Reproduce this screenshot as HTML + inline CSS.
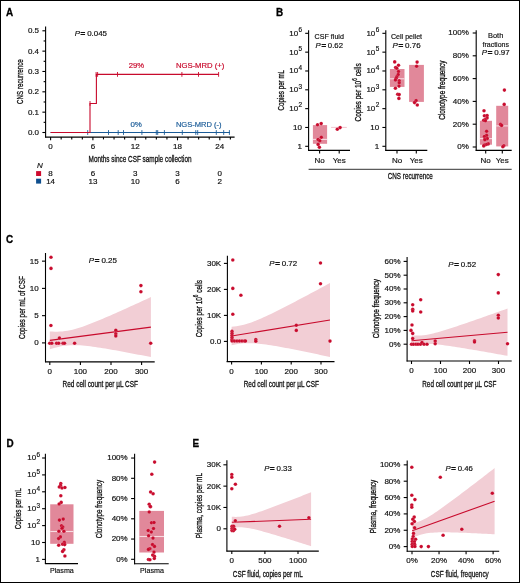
<!DOCTYPE html>
<html><head><meta charset="utf-8"><style>
html,body{margin:0;padding:0;background:#fff;}
#f{position:relative;width:520px;height:583px;box-sizing:border-box;border:1px solid #000;overflow:hidden;}
svg{position:absolute;left:-1px;top:-1px;will-change:transform;}
text{font-family:"Liberation Sans",sans-serif;stroke-width:0.18px;}
text.c{stroke-width:0.32px;}
tspan.eq{stroke-width:0.6px;}
text.L{stroke-width:0.3px;}
</style></head><body><div id="f">
<svg width="520" height="583" viewBox="0 0 520 583">
<text transform="translate(6.00,15.63) scale(0.92,1)" x="0" y="0" font-size="10.8" font-weight="bold" fill="#000" stroke="#000" class="L">A</text>
<line x1="45.60" y1="26.50" x2="45.60" y2="137.60" stroke="#000" stroke-width="1.1"/>
<line x1="45.10" y1="137.10" x2="234.60" y2="137.10" stroke="#000" stroke-width="1.1"/>
<line x1="42.40" y1="132.50" x2="45.60" y2="132.50" stroke="#000" stroke-width="1.1"/>
<text x="39.00" y="134.91" font-size="8.0" fill="#111" stroke="#111" text-anchor="end">0.0</text>
<line x1="42.40" y1="112.16" x2="45.60" y2="112.16" stroke="#000" stroke-width="1.1"/>
<text x="39.00" y="114.57" font-size="8.0" fill="#111" stroke="#111" text-anchor="end">0.1</text>
<line x1="42.40" y1="91.82" x2="45.60" y2="91.82" stroke="#000" stroke-width="1.1"/>
<text x="39.00" y="94.23" font-size="8.0" fill="#111" stroke="#111" text-anchor="end">0.2</text>
<line x1="42.40" y1="71.48" x2="45.60" y2="71.48" stroke="#000" stroke-width="1.1"/>
<text x="39.00" y="73.89" font-size="8.0" fill="#111" stroke="#111" text-anchor="end">0.3</text>
<line x1="42.40" y1="51.14" x2="45.60" y2="51.14" stroke="#000" stroke-width="1.1"/>
<text x="39.00" y="53.55" font-size="8.0" fill="#111" stroke="#111" text-anchor="end">0.4</text>
<line x1="42.40" y1="30.80" x2="45.60" y2="30.80" stroke="#000" stroke-width="1.1"/>
<text x="39.00" y="33.21" font-size="8.0" fill="#111" stroke="#111" text-anchor="end">0.5</text>
<line x1="43.60" y1="122.33" x2="45.60" y2="122.33" stroke="#000" stroke-width="1.1"/>
<line x1="43.60" y1="101.99" x2="45.60" y2="101.99" stroke="#000" stroke-width="1.1"/>
<line x1="43.60" y1="81.65" x2="45.60" y2="81.65" stroke="#000" stroke-width="1.1"/>
<line x1="43.60" y1="61.31" x2="45.60" y2="61.31" stroke="#000" stroke-width="1.1"/>
<line x1="43.60" y1="40.97" x2="45.60" y2="40.97" stroke="#000" stroke-width="1.1"/>
<line x1="50.60" y1="137.10" x2="50.60" y2="140.30" stroke="#000" stroke-width="1.1"/>
<text x="50.60" y="149.01" font-size="8.0" fill="#111" stroke="#111" text-anchor="middle">0</text>
<line x1="61.17" y1="137.10" x2="61.17" y2="139.40" stroke="#000" stroke-width="1.1"/>
<line x1="71.75" y1="137.10" x2="71.75" y2="139.40" stroke="#000" stroke-width="1.1"/>
<line x1="82.33" y1="137.10" x2="82.33" y2="139.40" stroke="#000" stroke-width="1.1"/>
<line x1="92.90" y1="137.10" x2="92.90" y2="140.30" stroke="#000" stroke-width="1.1"/>
<text x="92.90" y="149.01" font-size="8.0" fill="#111" stroke="#111" text-anchor="middle">6</text>
<line x1="103.47" y1="137.10" x2="103.47" y2="139.40" stroke="#000" stroke-width="1.1"/>
<line x1="114.05" y1="137.10" x2="114.05" y2="139.40" stroke="#000" stroke-width="1.1"/>
<line x1="124.62" y1="137.10" x2="124.62" y2="139.40" stroke="#000" stroke-width="1.1"/>
<line x1="135.20" y1="137.10" x2="135.20" y2="140.30" stroke="#000" stroke-width="1.1"/>
<text x="135.20" y="149.01" font-size="8.0" fill="#111" stroke="#111" text-anchor="middle">12</text>
<line x1="145.78" y1="137.10" x2="145.78" y2="139.40" stroke="#000" stroke-width="1.1"/>
<line x1="156.35" y1="137.10" x2="156.35" y2="139.40" stroke="#000" stroke-width="1.1"/>
<line x1="166.93" y1="137.10" x2="166.93" y2="139.40" stroke="#000" stroke-width="1.1"/>
<line x1="177.50" y1="137.10" x2="177.50" y2="140.30" stroke="#000" stroke-width="1.1"/>
<text x="177.50" y="149.01" font-size="8.0" fill="#111" stroke="#111" text-anchor="middle">18</text>
<line x1="188.07" y1="137.10" x2="188.07" y2="139.40" stroke="#000" stroke-width="1.1"/>
<line x1="198.65" y1="137.10" x2="198.65" y2="139.40" stroke="#000" stroke-width="1.1"/>
<line x1="209.22" y1="137.10" x2="209.22" y2="139.40" stroke="#000" stroke-width="1.1"/>
<line x1="219.80" y1="137.10" x2="219.80" y2="140.30" stroke="#000" stroke-width="1.1"/>
<text x="219.80" y="149.01" font-size="8.0" fill="#111" stroke="#111" text-anchor="middle">24</text>
<line x1="230.38" y1="137.10" x2="230.38" y2="139.40" stroke="#000" stroke-width="1.1"/>
<g transform="translate(19.00,81.60) rotate(-90)">
<text x="0.00" y="3.51" font-size="9.8" fill="#111" stroke="#111" text-anchor="middle" textLength="44.70" lengthAdjust="spacingAndGlyphs" class="c">CNS recurrence</text>
</g>
<text x="88.60" y="162.21" font-size="9.8" fill="#111" stroke="#111" textLength="103.00" lengthAdjust="spacingAndGlyphs" class="c">Months since CSF sample collection</text>
<text x="74.70" y="36.05" font-size="7.4" fill="#111" stroke="#111" text-anchor="start" textLength="32.30" lengthAdjust="spacingAndGlyphs"><tspan font-style="italic">P</tspan><tspan dx="0.6" class="eq">=</tspan><tspan dx="1.8">0.045</tspan></text>
<line x1="50.60" y1="132.50" x2="230.00" y2="132.50" stroke="#1B5C98" stroke-width="1.1"/>
<line x1="87.70" y1="130.10" x2="87.70" y2="134.90" stroke="#1B5C98" stroke-width="0.9"/>
<line x1="108.50" y1="130.10" x2="108.50" y2="134.90" stroke="#1B5C98" stroke-width="0.9"/>
<line x1="118.20" y1="130.10" x2="118.20" y2="134.90" stroke="#1B5C98" stroke-width="0.9"/>
<line x1="123.50" y1="130.10" x2="123.50" y2="134.90" stroke="#1B5C98" stroke-width="0.9"/>
<line x1="141.90" y1="130.10" x2="141.90" y2="134.90" stroke="#1B5C98" stroke-width="0.9"/>
<line x1="156.30" y1="130.10" x2="156.30" y2="134.90" stroke="#1B5C98" stroke-width="0.9"/>
<line x1="157.70" y1="130.10" x2="157.70" y2="134.90" stroke="#1B5C98" stroke-width="0.9"/>
<line x1="164.40" y1="130.10" x2="164.40" y2="134.90" stroke="#1B5C98" stroke-width="0.9"/>
<line x1="182.30" y1="130.10" x2="182.30" y2="134.90" stroke="#1B5C98" stroke-width="0.9"/>
<line x1="195.80" y1="130.10" x2="195.80" y2="134.90" stroke="#1B5C98" stroke-width="0.9"/>
<line x1="197.70" y1="130.10" x2="197.70" y2="134.90" stroke="#1B5C98" stroke-width="0.9"/>
<line x1="216.30" y1="130.10" x2="216.30" y2="134.90" stroke="#1B5C98" stroke-width="0.9"/>
<line x1="223.70" y1="130.10" x2="223.70" y2="134.90" stroke="#1B5C98" stroke-width="0.9"/>
<line x1="229.40" y1="130.10" x2="229.40" y2="134.90" stroke="#1B5C98" stroke-width="0.9"/>
<path d="M50.60,132.50 H90 V103.44 H96.4 V74.39 H218.6" fill="none" stroke="#C80A2C" stroke-width="1.1"/>
<line x1="90.00" y1="101.04" x2="90.00" y2="105.84" stroke="#C80A2C" stroke-width="0.9"/>
<line x1="96.10" y1="71.99" x2="96.10" y2="76.79" stroke="#C80A2C" stroke-width="0.9"/>
<line x1="97.60" y1="71.99" x2="97.60" y2="76.79" stroke="#C80A2C" stroke-width="0.9"/>
<line x1="117.50" y1="71.99" x2="117.50" y2="76.79" stroke="#C80A2C" stroke-width="0.9"/>
<line x1="181.90" y1="71.99" x2="181.90" y2="76.79" stroke="#C80A2C" stroke-width="0.9"/>
<line x1="198.50" y1="71.99" x2="198.50" y2="76.79" stroke="#C80A2C" stroke-width="0.9"/>
<line x1="218.60" y1="71.99" x2="218.60" y2="76.79" stroke="#C80A2C" stroke-width="0.9"/>
<text x="128.80" y="67.65" font-size="7.4" fill="#C80A2C" stroke="#C80A2C" textLength="15.40" lengthAdjust="spacingAndGlyphs">29%</text>
<text x="175.90" y="67.65" font-size="7.4" fill="#C80A2C" stroke="#C80A2C" textLength="48.50" lengthAdjust="spacingAndGlyphs">NGS-MRD (+)</text>
<text x="130.40" y="126.95" font-size="7.4" fill="#1B5C98" stroke="#1B5C98" textLength="11.50" lengthAdjust="spacingAndGlyphs">0%</text>
<text x="175.90" y="126.95" font-size="7.4" fill="#1B5C98" stroke="#1B5C98" textLength="45.70" lengthAdjust="spacingAndGlyphs">NGS-MRD (-)</text>
<text x="36.90" y="167.61" font-size="8.0" fill="#111" stroke="#111" font-style="italic">N</text>
<rect x="36.10" y="171.10" width="5.00" height="4.90" fill="#CF0A2E"/>
<rect x="36.10" y="178.70" width="5.00" height="4.90" fill="#0E4E8E"/>
<text x="50.60" y="176.21" font-size="8.0" fill="#111" stroke="#111" text-anchor="middle">8</text>
<text x="50.60" y="183.71" font-size="8.0" fill="#111" stroke="#111" text-anchor="middle">14</text>
<text x="92.90" y="176.21" font-size="8.0" fill="#111" stroke="#111" text-anchor="middle">6</text>
<text x="92.90" y="183.71" font-size="8.0" fill="#111" stroke="#111" text-anchor="middle">13</text>
<text x="135.20" y="176.21" font-size="8.0" fill="#111" stroke="#111" text-anchor="middle">3</text>
<text x="135.20" y="183.71" font-size="8.0" fill="#111" stroke="#111" text-anchor="middle">10</text>
<text x="177.50" y="176.21" font-size="8.0" fill="#111" stroke="#111" text-anchor="middle">3</text>
<text x="177.50" y="183.71" font-size="8.0" fill="#111" stroke="#111" text-anchor="middle">6</text>
<text x="219.80" y="176.21" font-size="8.0" fill="#111" stroke="#111" text-anchor="middle">0</text>
<text x="219.80" y="183.71" font-size="8.0" fill="#111" stroke="#111" text-anchor="middle">2</text>
<text transform="translate(275.90,15.63) scale(0.92,1)" x="0" y="0" font-size="10.8" font-weight="bold" fill="#000" stroke="#000" class="L">B</text>
<line x1="308.60" y1="30.20" x2="308.60" y2="150.90" stroke="#000" stroke-width="1.1"/>
<line x1="305.20" y1="146.30" x2="308.60" y2="146.30" stroke="#000" stroke-width="1.1"/>
<text x="302.00" y="148.71" font-size="8.0" fill="#111" stroke="#111" text-anchor="end">1</text>
<line x1="305.20" y1="127.47" x2="308.60" y2="127.47" stroke="#000" stroke-width="1.1"/>
<text x="302.00" y="129.88" font-size="8.0" fill="#111" stroke="#111" text-anchor="end">10</text>
<line x1="305.20" y1="108.64" x2="308.60" y2="108.64" stroke="#000" stroke-width="1.1"/>
<text x="302.00" y="111.05" font-size="8.0" fill="#111" stroke="#111" text-anchor="end">10<tspan font-size="6.40" dx="0.3" dy="-3.60">2</tspan></text>
<line x1="305.20" y1="89.81" x2="308.60" y2="89.81" stroke="#000" stroke-width="1.1"/>
<text x="302.00" y="92.22" font-size="8.0" fill="#111" stroke="#111" text-anchor="end">10<tspan font-size="6.40" dx="0.3" dy="-3.60">3</tspan></text>
<line x1="305.20" y1="70.98" x2="308.60" y2="70.98" stroke="#000" stroke-width="1.1"/>
<text x="302.00" y="73.39" font-size="8.0" fill="#111" stroke="#111" text-anchor="end">10<tspan font-size="6.40" dx="0.3" dy="-3.60">4</tspan></text>
<line x1="305.20" y1="52.15" x2="308.60" y2="52.15" stroke="#000" stroke-width="1.1"/>
<text x="302.00" y="54.56" font-size="8.0" fill="#111" stroke="#111" text-anchor="end">10<tspan font-size="6.40" dx="0.3" dy="-3.60">5</tspan></text>
<line x1="305.20" y1="33.32" x2="308.60" y2="33.32" stroke="#000" stroke-width="1.1"/>
<text x="302.00" y="35.73" font-size="8.0" fill="#111" stroke="#111" text-anchor="end">10<tspan font-size="6.40" dx="0.3" dy="-3.60">6</tspan></text>
<line x1="308.10" y1="150.40" x2="350.00" y2="150.40" stroke="#000" stroke-width="1.1"/>
<line x1="319.60" y1="150.40" x2="319.60" y2="153.40" stroke="#000" stroke-width="1.1"/>
<line x1="339.20" y1="150.40" x2="339.20" y2="153.40" stroke="#000" stroke-width="1.1"/>
<text x="319.60" y="163.01" font-size="8.0" fill="#111" stroke="#111" text-anchor="middle">No</text>
<text x="339.20" y="163.01" font-size="8.0" fill="#111" stroke="#111" text-anchor="middle">Yes</text>
<g transform="translate(280.50,90.20) rotate(-90)">
<text x="0.00" y="3.51" font-size="9.8" fill="#111" stroke="#111" text-anchor="middle" textLength="40.50" lengthAdjust="spacingAndGlyphs" class="c">Copies per mL</text>
</g>
<text x="314.60" y="38.75" font-size="7.4" fill="#111" stroke="#111" textLength="29.30" lengthAdjust="spacingAndGlyphs">CSF fluid</text>
<text x="315.60" y="47.75" font-size="7.4" fill="#111" stroke="#111" text-anchor="start" textLength="27.40" lengthAdjust="spacingAndGlyphs"><tspan font-style="italic">P</tspan><tspan dx="0.6" class="eq">=</tspan><tspan dx="1.8">0.62</tspan></text>
<line x1="385.80" y1="30.20" x2="385.80" y2="150.90" stroke="#000" stroke-width="1.1"/>
<line x1="382.40" y1="146.30" x2="385.80" y2="146.30" stroke="#000" stroke-width="1.1"/>
<text x="379.20" y="148.71" font-size="8.0" fill="#111" stroke="#111" text-anchor="end">1</text>
<line x1="382.40" y1="127.47" x2="385.80" y2="127.47" stroke="#000" stroke-width="1.1"/>
<text x="379.20" y="129.88" font-size="8.0" fill="#111" stroke="#111" text-anchor="end">10</text>
<line x1="382.40" y1="108.64" x2="385.80" y2="108.64" stroke="#000" stroke-width="1.1"/>
<text x="379.20" y="111.05" font-size="8.0" fill="#111" stroke="#111" text-anchor="end">10<tspan font-size="6.40" dx="0.3" dy="-3.60">2</tspan></text>
<line x1="382.40" y1="89.81" x2="385.80" y2="89.81" stroke="#000" stroke-width="1.1"/>
<text x="379.20" y="92.22" font-size="8.0" fill="#111" stroke="#111" text-anchor="end">10<tspan font-size="6.40" dx="0.3" dy="-3.60">3</tspan></text>
<line x1="382.40" y1="70.98" x2="385.80" y2="70.98" stroke="#000" stroke-width="1.1"/>
<text x="379.20" y="73.39" font-size="8.0" fill="#111" stroke="#111" text-anchor="end">10<tspan font-size="6.40" dx="0.3" dy="-3.60">4</tspan></text>
<line x1="382.40" y1="52.15" x2="385.80" y2="52.15" stroke="#000" stroke-width="1.1"/>
<text x="379.20" y="54.56" font-size="8.0" fill="#111" stroke="#111" text-anchor="end">10<tspan font-size="6.40" dx="0.3" dy="-3.60">5</tspan></text>
<line x1="382.40" y1="33.32" x2="385.80" y2="33.32" stroke="#000" stroke-width="1.1"/>
<text x="379.20" y="35.73" font-size="8.0" fill="#111" stroke="#111" text-anchor="end">10<tspan font-size="6.40" dx="0.3" dy="-3.60">6</tspan></text>
<line x1="385.30" y1="150.40" x2="427.30" y2="150.40" stroke="#000" stroke-width="1.1"/>
<line x1="397.00" y1="150.40" x2="397.00" y2="153.40" stroke="#000" stroke-width="1.1"/>
<line x1="416.30" y1="150.40" x2="416.30" y2="153.40" stroke="#000" stroke-width="1.1"/>
<text x="397.00" y="163.01" font-size="8.0" fill="#111" stroke="#111" text-anchor="middle">No</text>
<text x="416.30" y="163.01" font-size="8.0" fill="#111" stroke="#111" text-anchor="middle">Yes</text>
<text x="391.00" y="39.05" font-size="7.4" fill="#111" stroke="#111" textLength="31.10" lengthAdjust="spacingAndGlyphs">Cell pellet</text>
<text x="392.40" y="47.75" font-size="7.4" fill="#111" stroke="#111" text-anchor="start" textLength="28.20" lengthAdjust="spacingAndGlyphs"><tspan font-style="italic">P</tspan><tspan dx="0.6" class="eq">=</tspan><tspan dx="1.8">0.76</tspan></text>
<line x1="476.20" y1="30.20" x2="476.20" y2="150.90" stroke="#000" stroke-width="1.1"/>
<line x1="472.70" y1="147.00" x2="476.20" y2="147.00" stroke="#000" stroke-width="1.1"/>
<text x="468.80" y="149.41" font-size="8.0" fill="#111" stroke="#111" text-anchor="end">0%</text>
<line x1="472.70" y1="124.20" x2="476.20" y2="124.20" stroke="#000" stroke-width="1.1"/>
<text x="468.80" y="126.61" font-size="8.0" fill="#111" stroke="#111" text-anchor="end">20%</text>
<line x1="472.70" y1="101.40" x2="476.20" y2="101.40" stroke="#000" stroke-width="1.1"/>
<text x="468.80" y="103.81" font-size="8.0" fill="#111" stroke="#111" text-anchor="end">40%</text>
<line x1="472.70" y1="78.60" x2="476.20" y2="78.60" stroke="#000" stroke-width="1.1"/>
<text x="468.80" y="81.01" font-size="8.0" fill="#111" stroke="#111" text-anchor="end">60%</text>
<line x1="472.70" y1="55.80" x2="476.20" y2="55.80" stroke="#000" stroke-width="1.1"/>
<text x="468.80" y="58.21" font-size="8.0" fill="#111" stroke="#111" text-anchor="end">80%</text>
<line x1="472.70" y1="33.00" x2="476.20" y2="33.00" stroke="#000" stroke-width="1.1"/>
<text x="468.80" y="35.41" font-size="8.0" fill="#111" stroke="#111" text-anchor="end">100%</text>
<line x1="475.70" y1="150.40" x2="511.70" y2="150.40" stroke="#000" stroke-width="1.1"/>
<line x1="485.70" y1="150.40" x2="485.70" y2="153.40" stroke="#000" stroke-width="1.1"/>
<line x1="502.30" y1="150.40" x2="502.30" y2="153.40" stroke="#000" stroke-width="1.1"/>
<text x="485.70" y="163.01" font-size="8.0" fill="#111" stroke="#111" text-anchor="middle">No</text>
<text x="502.30" y="163.01" font-size="8.0" fill="#111" stroke="#111" text-anchor="middle">Yes</text>
<text x="495.70" y="38.25" font-size="7.4" fill="#111" stroke="#111" text-anchor="middle">Both</text>
<text x="495.70" y="47.25" font-size="7.4" fill="#111" stroke="#111" text-anchor="middle" textLength="26.40" lengthAdjust="spacingAndGlyphs">fractions</text>
<text x="495.70" y="55.05" font-size="7.4" fill="#111" stroke="#111" text-anchor="middle" textLength="28.00" lengthAdjust="spacingAndGlyphs"><tspan font-style="italic">P</tspan><tspan dx="0.6" class="eq">=</tspan><tspan dx="1.8">0.97</tspan></text>
<g transform="translate(441.50,90.20) rotate(-90)">
<text x="0.00" y="3.51" font-size="9.8" fill="#111" stroke="#111" text-anchor="middle" textLength="59.20" lengthAdjust="spacingAndGlyphs" class="c">Clonotype frequency</text>
</g>
<line x1="308.60" y1="169.30" x2="511.70" y2="169.30" stroke="#333" stroke-width="1"/>
<text x="410.30" y="179.31" font-size="9.8" fill="#111" stroke="#111" text-anchor="middle" textLength="45.00" lengthAdjust="spacingAndGlyphs" class="c">CNS recurrence</text>
<rect x="312.90" y="125.10" width="14.20" height="18.70" fill="#E1889A"/>
<line x1="312.90" y1="139.40" x2="327.10" y2="139.40" stroke="#F7DCE2" stroke-width="1.1"/>
<line x1="331.10" y1="127.40" x2="346.80" y2="127.40" stroke="#EDB3C0" stroke-width="0.8"/>
<rect x="389.90" y="69.00" width="14.60" height="17.90" fill="#E1889A"/>
<line x1="389.90" y1="78.80" x2="404.50" y2="78.80" stroke="#F7DCE2" stroke-width="1.1"/>
<rect x="409.10" y="64.90" width="14.80" height="37.00" fill="#E1889A"/>
<rect x="479.90" y="120.80" width="12.10" height="23.90" fill="#E1889A"/>
<line x1="479.90" y1="138.60" x2="492.00" y2="138.60" stroke="#F7DCE2" stroke-width="1.1"/>
<rect x="496.20" y="105.80" width="12.00" height="40.60" fill="#E1889A"/>
<line x1="496.20" y1="125.90" x2="508.20" y2="125.90" stroke="#F7DCE2" stroke-width="1.1"/>
<g transform="translate(357.80,92.40) rotate(-90)">
<text x="0" y="3.51" font-size="9.8" fill="#111" stroke="#111" text-anchor="middle" textLength="58.30" lengthAdjust="spacingAndGlyphs" class="c">Copies per 10<tspan font-size="6.86" dy="-3.92">6</tspan><tspan dy="3.92"> cells</tspan></text>
</g>
<text transform="translate(6.00,243.03) scale(0.92,1)" x="0" y="0" font-size="10.8" font-weight="bold" fill="#000" stroke="#000" class="L">C</text>
<line x1="45.50" y1="253.00" x2="45.50" y2="362.40" stroke="#000" stroke-width="1.1"/>
<line x1="42.00" y1="342.90" x2="45.50" y2="342.90" stroke="#000" stroke-width="1.1"/>
<text x="38.60" y="345.31" font-size="8.0" fill="#111" stroke="#111" text-anchor="end">0</text>
<line x1="42.00" y1="315.65" x2="45.50" y2="315.65" stroke="#000" stroke-width="1.1"/>
<text x="38.60" y="318.06" font-size="8.0" fill="#111" stroke="#111" text-anchor="end">5</text>
<line x1="42.00" y1="288.40" x2="45.50" y2="288.40" stroke="#000" stroke-width="1.1"/>
<text x="38.60" y="290.81" font-size="8.0" fill="#111" stroke="#111" text-anchor="end">10</text>
<line x1="42.00" y1="261.15" x2="45.50" y2="261.15" stroke="#000" stroke-width="1.1"/>
<text x="38.60" y="263.56" font-size="8.0" fill="#111" stroke="#111" text-anchor="end">15</text>
<line x1="45.30" y1="361.90" x2="154.70" y2="361.90" stroke="#000" stroke-width="1.1"/>
<line x1="49.80" y1="361.90" x2="49.80" y2="364.90" stroke="#000" stroke-width="1.1"/>
<text x="49.80" y="373.81" font-size="8.0" fill="#111" stroke="#111" text-anchor="middle">0</text>
<line x1="80.40" y1="361.90" x2="80.40" y2="364.90" stroke="#000" stroke-width="1.1"/>
<text x="80.40" y="373.81" font-size="8.0" fill="#111" stroke="#111" text-anchor="middle">100</text>
<line x1="111.00" y1="361.90" x2="111.00" y2="364.90" stroke="#000" stroke-width="1.1"/>
<text x="111.00" y="373.81" font-size="8.0" fill="#111" stroke="#111" text-anchor="middle">200</text>
<line x1="141.60" y1="361.90" x2="141.60" y2="364.90" stroke="#000" stroke-width="1.1"/>
<text x="141.60" y="373.81" font-size="8.0" fill="#111" stroke="#111" text-anchor="middle">300</text>
<polygon points="49.80,331.47 52.33,331.60 54.85,331.67 57.38,331.66 59.91,331.57 62.44,331.39 64.97,331.10 67.49,330.72 70.02,330.24 72.55,329.67 75.08,329.02 77.60,328.29 80.13,327.49 82.66,326.64 85.19,325.74 87.71,324.81 90.24,323.84 92.77,322.84 95.30,321.82 97.82,320.78 100.35,319.73 102.88,318.66 105.41,317.57 107.93,316.48 110.46,315.38 112.99,314.27 115.52,313.15 118.04,312.03 120.57,310.90 123.10,309.77 125.63,308.63 128.15,307.49 130.68,306.34 133.21,305.20 135.74,304.05 138.26,302.89 140.79,301.74 143.32,300.58 145.84,299.42 148.37,298.26 150.90,297.10 150.90,357.10 148.37,356.60 145.84,356.11 143.32,355.61 140.79,355.12 138.26,354.63 135.74,354.14 133.21,353.66 130.68,353.18 128.15,352.70 125.63,352.22 123.10,351.75 120.57,351.28 118.04,350.82 115.52,350.36 112.99,349.91 110.46,349.46 107.93,349.03 105.41,348.60 102.88,348.18 100.35,347.77 97.82,347.38 95.30,347.01 92.77,346.65 90.24,346.32 87.71,346.02 85.19,345.75 82.66,345.52 80.13,345.33 77.60,345.20 75.08,345.13 72.55,345.14 70.02,345.24 67.49,345.42 64.97,345.71 62.44,346.09 59.91,346.57 57.38,347.15 54.85,347.80 52.33,348.54 49.80,349.33" fill="#F2CED5"/>
<line x1="49.80" y1="340.40" x2="150.90" y2="327.10" stroke="#C80A2C" stroke-width="1.1"/>
<text x="88.80" y="262.85" font-size="7.4" fill="#111" stroke="#111" text-anchor="start" textLength="28.20" lengthAdjust="spacingAndGlyphs"><tspan font-style="italic">P</tspan><tspan dx="0.6" class="eq">=</tspan><tspan dx="1.8">0.25</tspan></text>
<g transform="translate(21.60,307.60) rotate(-90)">
<text x="0.00" y="3.51" font-size="9.8" fill="#111" stroke="#111" text-anchor="middle" textLength="63.00" lengthAdjust="spacingAndGlyphs" class="c">Copies per mL of CSF</text>
</g>
<text x="62.60" y="387.01" font-size="9.8" fill="#111" stroke="#111" textLength="75.40" lengthAdjust="spacingAndGlyphs" class="c">Red cell count per µL CSF</text>
<line x1="227.40" y1="255.70" x2="227.40" y2="362.10" stroke="#000" stroke-width="1.1"/>
<line x1="223.90" y1="341.40" x2="227.40" y2="341.40" stroke="#000" stroke-width="1.1"/>
<text x="221.20" y="343.81" font-size="8.0" fill="#111" stroke="#111" text-anchor="end">0.0</text>
<line x1="223.90" y1="315.40" x2="227.40" y2="315.40" stroke="#000" stroke-width="1.1"/>
<text x="221.20" y="317.81" font-size="8.0" fill="#111" stroke="#111" text-anchor="end">10K</text>
<line x1="223.90" y1="289.40" x2="227.40" y2="289.40" stroke="#000" stroke-width="1.1"/>
<text x="221.20" y="291.81" font-size="8.0" fill="#111" stroke="#111" text-anchor="end">20K</text>
<line x1="223.90" y1="263.40" x2="227.40" y2="263.40" stroke="#000" stroke-width="1.1"/>
<text x="221.20" y="265.81" font-size="8.0" fill="#111" stroke="#111" text-anchor="end">30K</text>
<line x1="226.60" y1="361.60" x2="334.50" y2="361.60" stroke="#000" stroke-width="1.1"/>
<line x1="231.60" y1="361.60" x2="231.60" y2="364.60" stroke="#000" stroke-width="1.1"/>
<text x="231.60" y="373.51" font-size="8.0" fill="#111" stroke="#111" text-anchor="middle">0</text>
<line x1="261.40" y1="361.60" x2="261.40" y2="364.60" stroke="#000" stroke-width="1.1"/>
<text x="261.40" y="373.51" font-size="8.0" fill="#111" stroke="#111" text-anchor="middle">100</text>
<line x1="291.20" y1="361.60" x2="291.20" y2="364.60" stroke="#000" stroke-width="1.1"/>
<text x="291.20" y="373.51" font-size="8.0" fill="#111" stroke="#111" text-anchor="middle">200</text>
<line x1="321.00" y1="361.60" x2="321.00" y2="364.60" stroke="#000" stroke-width="1.1"/>
<text x="321.00" y="373.51" font-size="8.0" fill="#111" stroke="#111" text-anchor="middle">300</text>
<polygon points="231.60,326.66 234.06,326.47 236.52,326.18 238.98,325.79 241.44,325.30 243.90,324.71 246.36,324.03 248.82,323.26 251.28,322.42 253.74,321.51 256.20,320.54 258.66,319.52 261.12,318.46 263.58,317.36 266.04,316.24 268.50,315.08 270.96,313.91 273.42,312.71 275.88,311.50 278.34,310.27 280.80,309.03 283.26,307.78 285.72,306.52 288.18,305.26 290.64,303.98 293.10,302.70 295.56,301.41 298.02,300.12 300.48,298.82 302.94,297.52 305.40,296.21 307.86,294.90 310.32,293.59 312.78,292.27 315.24,290.95 317.70,289.63 320.16,288.31 322.62,286.99 325.08,285.66 327.54,284.33 330.00,283.00 330.00,357.00 327.54,356.47 325.08,355.94 322.62,355.41 320.16,354.89 317.70,354.37 315.24,353.85 312.78,353.33 310.32,352.81 307.86,352.30 305.40,351.79 302.94,351.28 300.48,350.78 298.02,350.28 295.56,349.79 293.10,349.30 290.64,348.82 288.18,348.34 285.72,347.88 283.26,347.42 280.80,346.97 278.34,346.53 275.88,346.10 273.42,345.69 270.96,345.29 268.50,344.92 266.04,344.56 263.58,344.24 261.12,343.94 258.66,343.68 256.20,343.46 253.74,343.29 251.28,343.18 248.82,343.14 246.36,343.17 243.90,343.29 241.44,343.50 238.98,343.81 236.52,344.22 234.06,344.73 231.60,345.34" fill="#F2CED5"/>
<line x1="231.60" y1="336.00" x2="330.00" y2="320.00" stroke="#C80A2C" stroke-width="1.1"/>
<text x="297.20" y="265.95" font-size="7.4" fill="#111" stroke="#111" text-anchor="end" textLength="28.00" lengthAdjust="spacingAndGlyphs"><tspan font-style="italic">P</tspan><tspan dx="0.6" class="eq">=</tspan><tspan dx="1.8">0.72</tspan></text>
<text x="243.70" y="387.01" font-size="9.8" fill="#111" stroke="#111" textLength="75.20" lengthAdjust="spacingAndGlyphs" class="c">Red cell count per µL CSF</text>
<g transform="translate(198.00,308.60) rotate(-90)">
<text x="0" y="3.51" font-size="9.8" fill="#111" stroke="#111" text-anchor="middle" textLength="57.40" lengthAdjust="spacingAndGlyphs" class="c">Copies per 10<tspan font-size="6.86" dy="-3.92">6</tspan><tspan dy="3.92"> cells</tspan></text>
</g>
<line x1="407.10" y1="256.90" x2="407.10" y2="361.50" stroke="#000" stroke-width="1.1"/>
<line x1="403.60" y1="344.20" x2="407.10" y2="344.20" stroke="#000" stroke-width="1.1"/>
<text x="400.60" y="346.61" font-size="8.0" fill="#111" stroke="#111" text-anchor="end">0%</text>
<line x1="403.60" y1="330.40" x2="407.10" y2="330.40" stroke="#000" stroke-width="1.1"/>
<text x="400.60" y="332.81" font-size="8.0" fill="#111" stroke="#111" text-anchor="end">10%</text>
<line x1="403.60" y1="316.60" x2="407.10" y2="316.60" stroke="#000" stroke-width="1.1"/>
<text x="400.60" y="319.01" font-size="8.0" fill="#111" stroke="#111" text-anchor="end">20%</text>
<line x1="403.60" y1="302.80" x2="407.10" y2="302.80" stroke="#000" stroke-width="1.1"/>
<text x="400.60" y="305.21" font-size="8.0" fill="#111" stroke="#111" text-anchor="end">30%</text>
<line x1="403.60" y1="289.00" x2="407.10" y2="289.00" stroke="#000" stroke-width="1.1"/>
<text x="400.60" y="291.41" font-size="8.0" fill="#111" stroke="#111" text-anchor="end">40%</text>
<line x1="403.60" y1="275.20" x2="407.10" y2="275.20" stroke="#000" stroke-width="1.1"/>
<text x="400.60" y="277.61" font-size="8.0" fill="#111" stroke="#111" text-anchor="end">50%</text>
<line x1="403.60" y1="261.40" x2="407.10" y2="261.40" stroke="#000" stroke-width="1.1"/>
<text x="400.60" y="263.81" font-size="8.0" fill="#111" stroke="#111" text-anchor="end">60%</text>
<line x1="406.60" y1="361.00" x2="511.70" y2="361.00" stroke="#000" stroke-width="1.1"/>
<line x1="411.50" y1="361.00" x2="411.50" y2="364.00" stroke="#000" stroke-width="1.1"/>
<text x="411.50" y="373.01" font-size="8.0" fill="#111" stroke="#111" text-anchor="middle">0</text>
<line x1="440.50" y1="361.00" x2="440.50" y2="364.00" stroke="#000" stroke-width="1.1"/>
<text x="440.50" y="373.01" font-size="8.0" fill="#111" stroke="#111" text-anchor="middle">100</text>
<line x1="469.50" y1="361.00" x2="469.50" y2="364.00" stroke="#000" stroke-width="1.1"/>
<text x="469.50" y="373.01" font-size="8.0" fill="#111" stroke="#111" text-anchor="middle">200</text>
<line x1="498.50" y1="361.00" x2="498.50" y2="364.00" stroke="#000" stroke-width="1.1"/>
<text x="498.50" y="373.01" font-size="8.0" fill="#111" stroke="#111" text-anchor="middle">300</text>
<polygon points="411.50,335.46 413.90,335.57 416.30,335.61 418.70,335.57 421.10,335.44 423.50,335.22 425.90,334.90 428.30,334.49 430.70,334.00 433.10,333.45 435.50,332.85 437.90,332.20 440.30,331.51 442.70,330.80 445.10,330.06 447.50,329.30 449.90,328.53 452.30,327.75 454.70,326.96 457.10,326.16 459.50,325.35 461.90,324.53 464.30,323.72 466.70,322.89 469.10,322.06 471.50,321.23 473.90,320.40 476.30,319.56 478.70,318.72 481.10,317.88 483.50,317.04 485.90,316.20 488.30,315.35 490.70,314.50 493.10,313.66 495.50,312.81 497.90,311.96 500.30,311.11 502.70,310.26 505.10,309.40 507.50,308.55 507.50,355.85 505.10,355.42 502.70,354.99 500.30,354.57 497.90,354.14 495.50,353.72 493.10,353.29 490.70,352.87 488.30,352.45 485.90,352.03 483.50,351.61 481.10,351.19 478.70,350.78 476.30,350.36 473.90,349.95 471.50,349.54 469.10,349.14 466.70,348.73 464.30,348.33 461.90,347.94 459.50,347.55 457.10,347.17 454.70,346.79 452.30,346.42 449.90,346.07 447.50,345.72 445.10,345.39 442.70,345.08 440.30,344.79 437.90,344.53 435.50,344.30 433.10,344.12 430.70,344.00 428.30,343.93 425.90,343.95 423.50,344.06 421.10,344.26 418.70,344.55 416.30,344.94 413.90,345.41 411.50,345.94" fill="#F2CED5"/>
<line x1="411.50" y1="340.70" x2="507.50" y2="332.20" stroke="#C80A2C" stroke-width="1.1"/>
<text x="448.20" y="266.85" font-size="7.4" fill="#111" stroke="#111" text-anchor="start" textLength="28.00" lengthAdjust="spacingAndGlyphs"><tspan font-style="italic">P</tspan><tspan dx="0.6" class="eq">=</tspan><tspan dx="1.8">0.52</tspan></text>
<text x="422.30" y="387.01" font-size="9.8" fill="#111" stroke="#111" textLength="74.00" lengthAdjust="spacingAndGlyphs" class="c">Red cell count per µL CSF</text>
<g transform="translate(375.00,308.60) rotate(-90)">
<text x="0.00" y="3.51" font-size="9.8" fill="#111" stroke="#111" text-anchor="middle" textLength="59.20" lengthAdjust="spacingAndGlyphs" class="c">Clonotype frequency</text>
</g>
<text transform="translate(6.40,447.03) scale(0.92,1)" x="0" y="0" font-size="10.8" font-weight="bold" fill="#000" stroke="#000" class="L">D</text>
<line x1="45.40" y1="453.80" x2="45.40" y2="563.70" stroke="#000" stroke-width="1.1"/>
<line x1="42.10" y1="559.40" x2="45.40" y2="559.40" stroke="#000" stroke-width="1.1"/>
<text x="40.00" y="561.81" font-size="8.0" fill="#111" stroke="#111" text-anchor="end">1</text>
<line x1="42.10" y1="542.50" x2="45.40" y2="542.50" stroke="#000" stroke-width="1.1"/>
<text x="40.00" y="544.91" font-size="8.0" fill="#111" stroke="#111" text-anchor="end">10</text>
<line x1="42.10" y1="525.60" x2="45.40" y2="525.60" stroke="#000" stroke-width="1.1"/>
<text x="40.00" y="528.01" font-size="8.0" fill="#111" stroke="#111" text-anchor="end">10<tspan font-size="6.40" dx="0.3" dy="-3.60">2</tspan></text>
<line x1="42.10" y1="508.70" x2="45.40" y2="508.70" stroke="#000" stroke-width="1.1"/>
<text x="40.00" y="511.11" font-size="8.0" fill="#111" stroke="#111" text-anchor="end">10<tspan font-size="6.40" dx="0.3" dy="-3.60">3</tspan></text>
<line x1="42.10" y1="491.80" x2="45.40" y2="491.80" stroke="#000" stroke-width="1.1"/>
<text x="40.00" y="494.21" font-size="8.0" fill="#111" stroke="#111" text-anchor="end">10<tspan font-size="6.40" dx="0.3" dy="-3.60">4</tspan></text>
<line x1="42.10" y1="474.90" x2="45.40" y2="474.90" stroke="#000" stroke-width="1.1"/>
<text x="40.00" y="477.31" font-size="8.0" fill="#111" stroke="#111" text-anchor="end">10<tspan font-size="6.40" dx="0.3" dy="-3.60">5</tspan></text>
<line x1="42.10" y1="458.00" x2="45.40" y2="458.00" stroke="#000" stroke-width="1.1"/>
<text x="40.00" y="460.41" font-size="8.0" fill="#111" stroke="#111" text-anchor="end">10<tspan font-size="6.40" dx="0.3" dy="-3.60">6</tspan></text>
<line x1="44.90" y1="563.60" x2="78.00" y2="563.60" stroke="#000" stroke-width="1.1"/>
<text x="61.90" y="573.25" font-size="7.4" fill="#111" stroke="#111" text-anchor="middle" textLength="23.80" lengthAdjust="spacingAndGlyphs">Plasma</text>
<rect x="50.20" y="504.30" width="23.30" height="39.50" fill="#E1889A"/>
<line x1="50.20" y1="531.50" x2="73.50" y2="531.50" stroke="#F7DCE2" stroke-width="1.1"/>
<g transform="translate(17.20,508.70) rotate(-90)">
<text x="0.00" y="3.51" font-size="9.8" fill="#111" stroke="#111" text-anchor="middle" textLength="41.00" lengthAdjust="spacingAndGlyphs" class="c">Copies per mL</text>
</g>
<line x1="134.60" y1="453.70" x2="134.60" y2="564.20" stroke="#000" stroke-width="1.1"/>
<line x1="131.10" y1="559.30" x2="134.60" y2="559.30" stroke="#000" stroke-width="1.1"/>
<text x="127.70" y="561.71" font-size="8.0" fill="#111" stroke="#111" text-anchor="end">0%</text>
<line x1="131.10" y1="539.05" x2="134.60" y2="539.05" stroke="#000" stroke-width="1.1"/>
<text x="127.70" y="541.46" font-size="8.0" fill="#111" stroke="#111" text-anchor="end">20%</text>
<line x1="131.10" y1="518.80" x2="134.60" y2="518.80" stroke="#000" stroke-width="1.1"/>
<text x="127.70" y="521.21" font-size="8.0" fill="#111" stroke="#111" text-anchor="end">40%</text>
<line x1="131.10" y1="498.55" x2="134.60" y2="498.55" stroke="#000" stroke-width="1.1"/>
<text x="127.70" y="500.96" font-size="8.0" fill="#111" stroke="#111" text-anchor="end">60%</text>
<line x1="131.10" y1="478.30" x2="134.60" y2="478.30" stroke="#000" stroke-width="1.1"/>
<text x="127.70" y="480.71" font-size="8.0" fill="#111" stroke="#111" text-anchor="end">80%</text>
<line x1="131.10" y1="458.05" x2="134.60" y2="458.05" stroke="#000" stroke-width="1.1"/>
<text x="127.70" y="460.46" font-size="8.0" fill="#111" stroke="#111" text-anchor="end">100%</text>
<line x1="134.10" y1="563.70" x2="168.70" y2="563.70" stroke="#000" stroke-width="1.1"/>
<text x="152.00" y="573.25" font-size="7.4" fill="#111" stroke="#111" text-anchor="middle" textLength="23.80" lengthAdjust="spacingAndGlyphs">Plasma</text>
<rect x="139.30" y="510.90" width="24.70" height="41.60" fill="#E1889A"/>
<line x1="139.30" y1="536.50" x2="164.00" y2="536.50" stroke="#F7DCE2" stroke-width="1.1"/>
<g transform="translate(98.70,509.00) rotate(-90)">
<text x="0.00" y="3.51" font-size="9.8" fill="#111" stroke="#111" text-anchor="middle" textLength="58.30" lengthAdjust="spacingAndGlyphs" class="c">Clonotype frequency</text>
</g>
<text transform="translate(192.50,447.03) scale(0.92,1)" x="0" y="0" font-size="10.8" font-weight="bold" fill="#000" stroke="#000" class="L">E</text>
<line x1="226.90" y1="460.30" x2="226.90" y2="551.60" stroke="#000" stroke-width="1.1"/>
<line x1="223.40" y1="528.80" x2="226.90" y2="528.80" stroke="#000" stroke-width="1.1"/>
<text x="221.00" y="531.21" font-size="8.0" fill="#111" stroke="#111" text-anchor="end">0</text>
<line x1="223.40" y1="507.47" x2="226.90" y2="507.47" stroke="#000" stroke-width="1.1"/>
<text x="221.00" y="509.88" font-size="8.0" fill="#111" stroke="#111" text-anchor="end">10K</text>
<line x1="223.40" y1="486.14" x2="226.90" y2="486.14" stroke="#000" stroke-width="1.1"/>
<text x="221.00" y="488.55" font-size="8.0" fill="#111" stroke="#111" text-anchor="end">20K</text>
<line x1="223.40" y1="464.81" x2="226.90" y2="464.81" stroke="#000" stroke-width="1.1"/>
<text x="221.00" y="467.22" font-size="8.0" fill="#111" stroke="#111" text-anchor="end">30K</text>
<line x1="226.40" y1="551.10" x2="318.80" y2="551.10" stroke="#000" stroke-width="1.1"/>
<line x1="231.80" y1="551.10" x2="231.80" y2="554.10" stroke="#000" stroke-width="1.1"/>
<text x="231.80" y="562.81" font-size="8.0" fill="#111" stroke="#111" text-anchor="middle">0</text>
<line x1="264.90" y1="551.10" x2="264.90" y2="554.10" stroke="#000" stroke-width="1.1"/>
<text x="264.90" y="562.81" font-size="8.0" fill="#111" stroke="#111" text-anchor="middle">500</text>
<line x1="298.00" y1="551.10" x2="298.00" y2="554.10" stroke="#000" stroke-width="1.1"/>
<text x="298.00" y="562.81" font-size="8.0" fill="#111" stroke="#111" text-anchor="middle">1000</text>
<polygon points="231.80,516.64 233.78,516.80 235.77,516.88 237.75,516.87 239.73,516.75 241.71,516.54 243.70,516.24 245.68,515.86 247.66,515.41 249.64,514.91 251.62,514.36 253.61,513.77 255.59,513.15 257.57,512.51 259.56,511.84 261.54,511.16 263.52,510.46 265.50,509.76 267.49,509.04 269.47,508.31 271.45,507.58 273.43,506.84 275.42,506.10 277.40,505.35 279.38,504.59 281.36,503.84 283.35,503.08 285.33,502.31 287.31,501.55 289.29,500.78 291.28,500.01 293.26,499.24 295.24,498.47 297.22,497.70 299.21,496.92 301.19,496.15 303.17,495.37 305.15,494.59 307.13,493.81 309.12,493.03 311.10,492.25 311.10,546.15 309.12,545.52 307.13,544.90 305.15,544.27 303.17,543.65 301.19,543.03 299.21,542.41 297.22,541.79 295.24,541.17 293.26,540.55 291.28,539.94 289.29,539.32 287.31,538.71 285.33,538.10 283.35,537.49 281.36,536.89 279.38,536.29 277.40,535.69 275.42,535.09 273.43,534.50 271.45,533.92 269.47,533.34 267.49,532.77 265.50,532.21 263.52,531.66 261.54,531.11 259.56,530.59 257.57,530.08 255.59,529.59 253.61,529.12 251.62,528.69 249.64,528.29 247.66,527.95 245.68,527.65 243.70,527.43 241.71,527.28 239.73,527.23 237.75,527.27 235.77,527.41 233.78,527.64 231.80,527.96" fill="#F2CED5"/>
<line x1="231.80" y1="522.30" x2="311.10" y2="519.20" stroke="#C80A2C" stroke-width="1.1"/>
<text x="264.20" y="470.65" font-size="7.4" fill="#111" stroke="#111" text-anchor="start" textLength="27.60" lengthAdjust="spacingAndGlyphs"><tspan font-style="italic">P</tspan><tspan dx="0.6" class="eq">=</tspan><tspan dx="1.8">0.33</tspan></text>
<g transform="translate(198.00,505.60) rotate(-90)">
<text x="0.00" y="3.51" font-size="9.8" fill="#111" stroke="#111" text-anchor="middle" textLength="65.20" lengthAdjust="spacingAndGlyphs" class="c">Plasma, copies per mL</text>
</g>
<text x="232.80" y="576.51" font-size="9.8" fill="#111" stroke="#111" textLength="70.00" lengthAdjust="spacingAndGlyphs" class="c">CSF fluid, copies per mL</text>
<line x1="407.20" y1="460.40" x2="407.20" y2="551.70" stroke="#000" stroke-width="1.1"/>
<line x1="403.70" y1="546.60" x2="407.20" y2="546.60" stroke="#000" stroke-width="1.1"/>
<text x="400.40" y="549.01" font-size="8.0" fill="#111" stroke="#111" text-anchor="end">0%</text>
<line x1="403.70" y1="530.25" x2="407.20" y2="530.25" stroke="#000" stroke-width="1.1"/>
<text x="400.40" y="532.66" font-size="8.0" fill="#111" stroke="#111" text-anchor="end">20%</text>
<line x1="403.70" y1="513.90" x2="407.20" y2="513.90" stroke="#000" stroke-width="1.1"/>
<text x="400.40" y="516.31" font-size="8.0" fill="#111" stroke="#111" text-anchor="end">40%</text>
<line x1="403.70" y1="497.55" x2="407.20" y2="497.55" stroke="#000" stroke-width="1.1"/>
<text x="400.40" y="499.96" font-size="8.0" fill="#111" stroke="#111" text-anchor="end">60%</text>
<line x1="403.70" y1="481.20" x2="407.20" y2="481.20" stroke="#000" stroke-width="1.1"/>
<text x="400.40" y="483.61" font-size="8.0" fill="#111" stroke="#111" text-anchor="end">80%</text>
<line x1="403.70" y1="464.85" x2="407.20" y2="464.85" stroke="#000" stroke-width="1.1"/>
<text x="400.40" y="467.26" font-size="8.0" fill="#111" stroke="#111" text-anchor="end">100%</text>
<line x1="406.70" y1="551.20" x2="499.20" y2="551.20" stroke="#000" stroke-width="1.1"/>
<line x1="412.00" y1="551.20" x2="412.00" y2="554.20" stroke="#000" stroke-width="1.1"/>
<text x="412.00" y="563.21" font-size="8.0" fill="#111" stroke="#111" text-anchor="middle">0%</text>
<line x1="439.04" y1="551.20" x2="439.04" y2="554.20" stroke="#000" stroke-width="1.1"/>
<text x="439.04" y="563.21" font-size="8.0" fill="#111" stroke="#111" text-anchor="middle">20%</text>
<line x1="466.08" y1="551.20" x2="466.08" y2="554.20" stroke="#000" stroke-width="1.1"/>
<text x="466.08" y="563.21" font-size="8.0" fill="#111" stroke="#111" text-anchor="middle">40%</text>
<line x1="493.12" y1="551.20" x2="493.12" y2="554.20" stroke="#000" stroke-width="1.1"/>
<text x="493.12" y="563.21" font-size="8.0" fill="#111" stroke="#111" text-anchor="middle">60%</text>
<polygon points="412.20,523.57 414.26,523.08 416.32,522.48 418.38,521.78 420.44,520.96 422.50,520.04 424.56,519.02 426.62,517.90 428.68,516.72 430.74,515.46 432.80,514.16 434.86,512.81 436.92,511.42 438.98,510.00 441.04,508.56 443.10,507.09 445.16,505.61 447.22,504.12 449.28,502.61 451.34,501.09 453.40,499.56 455.46,498.02 457.52,496.48 459.58,494.93 461.64,493.37 463.70,491.81 465.76,490.25 467.82,488.68 469.88,487.11 471.94,485.54 474.00,483.96 476.06,482.38 478.12,480.80 480.18,479.22 482.24,477.63 484.30,476.05 486.36,474.46 488.42,472.87 490.48,471.28 492.54,469.69 494.60,468.10 494.60,534.30 492.54,534.19 490.48,534.08 488.42,533.97 486.36,533.86 484.30,533.75 482.24,533.65 480.18,533.54 478.12,533.44 476.06,533.34 474.00,533.24 471.94,533.14 469.88,533.05 467.82,532.96 465.76,532.87 463.70,532.79 461.64,532.71 459.58,532.63 457.52,532.56 455.46,532.50 453.40,532.44 451.34,532.39 449.28,532.35 447.22,532.32 445.16,532.31 443.10,532.31 441.04,532.32 438.98,532.36 436.92,532.42 434.86,532.51 432.80,532.64 430.74,532.82 428.68,533.04 426.62,533.34 424.56,533.70 422.50,534.16 420.44,534.72 418.38,535.38 416.32,536.16 414.26,537.04 412.20,538.03" fill="#F2CED5"/>
<line x1="412.20" y1="530.80" x2="494.60" y2="501.20" stroke="#C80A2C" stroke-width="1.1"/>
<text x="445.40" y="470.75" font-size="7.4" fill="#111" stroke="#111" text-anchor="start" textLength="27.40" lengthAdjust="spacingAndGlyphs"><tspan font-style="italic">P</tspan><tspan dx="0.6" class="eq">=</tspan><tspan dx="1.8">0.46</tspan></text>
<g transform="translate(372.70,506.50) rotate(-90)">
<text x="0.00" y="3.51" font-size="9.8" fill="#111" stroke="#111" text-anchor="middle" textLength="53.50" lengthAdjust="spacingAndGlyphs" class="c">Plasma, frequency</text>
</g>
<text x="430.80" y="576.81" font-size="9.8" fill="#111" stroke="#111" textLength="58.00" lengthAdjust="spacingAndGlyphs" class="c">CSF fluid, frequency</text>
<!--DOTS2-->
<circle cx="317.50" cy="124.80" r="1.78" fill="#C80A2C" stroke="#fff" stroke-opacity="0.3" stroke-width="0.4"/>
<circle cx="321.20" cy="123.60" r="1.78" fill="#C80A2C" stroke="#fff" stroke-opacity="0.3" stroke-width="0.4"/>
<circle cx="321.30" cy="137.30" r="1.78" fill="#C80A2C" stroke="#fff" stroke-opacity="0.3" stroke-width="0.4"/>
<circle cx="318.10" cy="139.60" r="1.78" fill="#C80A2C" stroke="#fff" stroke-opacity="0.3" stroke-width="0.4"/>
<circle cx="319.80" cy="140.70" r="1.78" fill="#C80A2C" stroke="#fff" stroke-opacity="0.3" stroke-width="0.4"/>
<circle cx="318.10" cy="144.40" r="1.78" fill="#C80A2C" stroke="#fff" stroke-opacity="0.3" stroke-width="0.4"/>
<circle cx="319.40" cy="147.30" r="1.78" fill="#C80A2C" stroke="#fff" stroke-opacity="0.3" stroke-width="0.4"/>
<circle cx="337.30" cy="129.20" r="1.78" fill="#C80A2C" stroke="#fff" stroke-opacity="0.3" stroke-width="0.4"/>
<circle cx="340.10" cy="127.60" r="1.78" fill="#C80A2C" stroke="#fff" stroke-opacity="0.3" stroke-width="0.4"/>
<circle cx="394.70" cy="61.90" r="1.78" fill="#C80A2C" stroke="#fff" stroke-opacity="0.3" stroke-width="0.4"/>
<circle cx="398.50" cy="65.20" r="1.78" fill="#C80A2C" stroke="#fff" stroke-opacity="0.3" stroke-width="0.4"/>
<circle cx="395.60" cy="67.50" r="1.78" fill="#C80A2C" stroke="#fff" stroke-opacity="0.3" stroke-width="0.4"/>
<circle cx="396.80" cy="68.20" r="1.78" fill="#C80A2C" stroke="#fff" stroke-opacity="0.3" stroke-width="0.4"/>
<circle cx="398.50" cy="71.50" r="1.78" fill="#C80A2C" stroke="#fff" stroke-opacity="0.3" stroke-width="0.4"/>
<circle cx="398.20" cy="74.60" r="1.78" fill="#C80A2C" stroke="#fff" stroke-opacity="0.3" stroke-width="0.4"/>
<circle cx="396.80" cy="76.90" r="1.78" fill="#C80A2C" stroke="#fff" stroke-opacity="0.3" stroke-width="0.4"/>
<circle cx="396.10" cy="78.30" r="1.78" fill="#C80A2C" stroke="#fff" stroke-opacity="0.3" stroke-width="0.4"/>
<circle cx="395.40" cy="80.00" r="1.78" fill="#C80A2C" stroke="#fff" stroke-opacity="0.3" stroke-width="0.4"/>
<circle cx="399.20" cy="80.70" r="1.78" fill="#C80A2C" stroke="#fff" stroke-opacity="0.3" stroke-width="0.4"/>
<circle cx="399.20" cy="82.80" r="1.78" fill="#C80A2C" stroke="#fff" stroke-opacity="0.3" stroke-width="0.4"/>
<circle cx="399.00" cy="86.10" r="1.78" fill="#C80A2C" stroke="#fff" stroke-opacity="0.3" stroke-width="0.4"/>
<circle cx="395.40" cy="88.20" r="1.78" fill="#C80A2C" stroke="#fff" stroke-opacity="0.3" stroke-width="0.4"/>
<circle cx="397.70" cy="94.20" r="1.78" fill="#C80A2C" stroke="#fff" stroke-opacity="0.3" stroke-width="0.4"/>
<circle cx="399.20" cy="94.60" r="1.78" fill="#C80A2C" stroke="#fff" stroke-opacity="0.3" stroke-width="0.4"/>
<circle cx="398.90" cy="98.40" r="1.78" fill="#C80A2C" stroke="#fff" stroke-opacity="0.3" stroke-width="0.4"/>
<circle cx="417.10" cy="62.10" r="1.78" fill="#C80A2C" stroke="#fff" stroke-opacity="0.3" stroke-width="0.4"/>
<circle cx="416.60" cy="66.30" r="1.78" fill="#C80A2C" stroke="#fff" stroke-opacity="0.3" stroke-width="0.4"/>
<circle cx="416.10" cy="100.60" r="1.78" fill="#C80A2C" stroke="#fff" stroke-opacity="0.3" stroke-width="0.4"/>
<circle cx="414.50" cy="102.60" r="1.78" fill="#C80A2C" stroke="#fff" stroke-opacity="0.3" stroke-width="0.4"/>
<circle cx="417.30" cy="105.00" r="1.78" fill="#C80A2C" stroke="#fff" stroke-opacity="0.3" stroke-width="0.4"/>
<circle cx="484.00" cy="110.80" r="1.78" fill="#C80A2C" stroke="#fff" stroke-opacity="0.3" stroke-width="0.4"/>
<circle cx="484.40" cy="115.80" r="1.78" fill="#C80A2C" stroke="#fff" stroke-opacity="0.3" stroke-width="0.4"/>
<circle cx="487.10" cy="115.60" r="1.78" fill="#C80A2C" stroke="#fff" stroke-opacity="0.3" stroke-width="0.4"/>
<circle cx="487.10" cy="117.90" r="1.78" fill="#C80A2C" stroke="#fff" stroke-opacity="0.3" stroke-width="0.4"/>
<circle cx="485.40" cy="119.30" r="1.78" fill="#C80A2C" stroke="#fff" stroke-opacity="0.3" stroke-width="0.4"/>
<circle cx="483.70" cy="120.30" r="1.78" fill="#C80A2C" stroke="#fff" stroke-opacity="0.3" stroke-width="0.4"/>
<circle cx="485.40" cy="120.70" r="1.78" fill="#C80A2C" stroke="#fff" stroke-opacity="0.3" stroke-width="0.4"/>
<circle cx="486.60" cy="131.30" r="1.78" fill="#C80A2C" stroke="#fff" stroke-opacity="0.3" stroke-width="0.4"/>
<circle cx="486.60" cy="135.40" r="1.78" fill="#C80A2C" stroke="#fff" stroke-opacity="0.3" stroke-width="0.4"/>
<circle cx="484.40" cy="136.50" r="1.78" fill="#C80A2C" stroke="#fff" stroke-opacity="0.3" stroke-width="0.4"/>
<circle cx="484.90" cy="138.90" r="1.78" fill="#C80A2C" stroke="#fff" stroke-opacity="0.3" stroke-width="0.4"/>
<circle cx="487.30" cy="138.60" r="1.78" fill="#C80A2C" stroke="#fff" stroke-opacity="0.3" stroke-width="0.4"/>
<circle cx="484.90" cy="139.80" r="1.78" fill="#C80A2C" stroke="#fff" stroke-opacity="0.3" stroke-width="0.4"/>
<circle cx="488.20" cy="143.90" r="1.78" fill="#C80A2C" stroke="#fff" stroke-opacity="0.3" stroke-width="0.4"/>
<circle cx="486.30" cy="144.50" r="1.78" fill="#C80A2C" stroke="#fff" stroke-opacity="0.3" stroke-width="0.4"/>
<circle cx="484.40" cy="145.00" r="1.78" fill="#C80A2C" stroke="#fff" stroke-opacity="0.3" stroke-width="0.4"/>
<circle cx="483.70" cy="145.90" r="1.78" fill="#C80A2C" stroke="#fff" stroke-opacity="0.3" stroke-width="0.4"/>
<circle cx="504.40" cy="90.10" r="1.78" fill="#C80A2C" stroke="#fff" stroke-opacity="0.3" stroke-width="0.4"/>
<circle cx="504.20" cy="104.40" r="1.78" fill="#C80A2C" stroke="#fff" stroke-opacity="0.3" stroke-width="0.4"/>
<circle cx="500.50" cy="124.40" r="1.78" fill="#C80A2C" stroke="#fff" stroke-opacity="0.3" stroke-width="0.4"/>
<circle cx="501.60" cy="125.40" r="1.78" fill="#C80A2C" stroke="#fff" stroke-opacity="0.3" stroke-width="0.4"/>
<circle cx="503.80" cy="145.70" r="1.78" fill="#C80A2C" stroke="#fff" stroke-opacity="0.3" stroke-width="0.4"/>
<circle cx="502.80" cy="146.70" r="1.78" fill="#C80A2C" stroke="#fff" stroke-opacity="0.3" stroke-width="0.4"/>
<circle cx="60.80" cy="483.50" r="1.78" fill="#C80A2C" stroke="#fff" stroke-opacity="0.3" stroke-width="0.4"/>
<circle cx="60.50" cy="485.40" r="1.78" fill="#C80A2C" stroke="#fff" stroke-opacity="0.3" stroke-width="0.4"/>
<circle cx="59.30" cy="487.00" r="1.78" fill="#C80A2C" stroke="#fff" stroke-opacity="0.3" stroke-width="0.4"/>
<circle cx="62.00" cy="488.00" r="1.78" fill="#C80A2C" stroke="#fff" stroke-opacity="0.3" stroke-width="0.4"/>
<circle cx="64.90" cy="487.50" r="1.78" fill="#C80A2C" stroke="#fff" stroke-opacity="0.3" stroke-width="0.4"/>
<circle cx="60.80" cy="495.70" r="1.78" fill="#C80A2C" stroke="#fff" stroke-opacity="0.3" stroke-width="0.4"/>
<circle cx="61.20" cy="502.40" r="1.78" fill="#C80A2C" stroke="#fff" stroke-opacity="0.3" stroke-width="0.4"/>
<circle cx="59.10" cy="504.00" r="1.78" fill="#C80A2C" stroke="#fff" stroke-opacity="0.3" stroke-width="0.4"/>
<circle cx="59.40" cy="520.10" r="1.78" fill="#C80A2C" stroke="#fff" stroke-opacity="0.3" stroke-width="0.4"/>
<circle cx="63.20" cy="519.10" r="1.78" fill="#C80A2C" stroke="#fff" stroke-opacity="0.3" stroke-width="0.4"/>
<circle cx="61.50" cy="525.70" r="1.78" fill="#C80A2C" stroke="#fff" stroke-opacity="0.3" stroke-width="0.4"/>
<circle cx="62.80" cy="527.00" r="1.78" fill="#C80A2C" stroke="#fff" stroke-opacity="0.3" stroke-width="0.4"/>
<circle cx="62.00" cy="528.30" r="1.78" fill="#C80A2C" stroke="#fff" stroke-opacity="0.3" stroke-width="0.4"/>
<circle cx="58.90" cy="531.30" r="1.78" fill="#C80A2C" stroke="#fff" stroke-opacity="0.3" stroke-width="0.4"/>
<circle cx="63.90" cy="531.30" r="1.78" fill="#C80A2C" stroke="#fff" stroke-opacity="0.3" stroke-width="0.4"/>
<circle cx="60.40" cy="536.90" r="1.78" fill="#C80A2C" stroke="#fff" stroke-opacity="0.3" stroke-width="0.4"/>
<circle cx="58.60" cy="538.60" r="1.78" fill="#C80A2C" stroke="#fff" stroke-opacity="0.3" stroke-width="0.4"/>
<circle cx="64.30" cy="542.40" r="1.78" fill="#C80A2C" stroke="#fff" stroke-opacity="0.3" stroke-width="0.4"/>
<circle cx="62.60" cy="544.20" r="1.78" fill="#C80A2C" stroke="#fff" stroke-opacity="0.3" stroke-width="0.4"/>
<circle cx="58.70" cy="545.20" r="1.78" fill="#C80A2C" stroke="#fff" stroke-opacity="0.3" stroke-width="0.4"/>
<circle cx="64.70" cy="544.60" r="1.78" fill="#C80A2C" stroke="#fff" stroke-opacity="0.3" stroke-width="0.4"/>
<circle cx="63.90" cy="549.70" r="1.78" fill="#C80A2C" stroke="#fff" stroke-opacity="0.3" stroke-width="0.4"/>
<circle cx="62.60" cy="551.40" r="1.78" fill="#C80A2C" stroke="#fff" stroke-opacity="0.3" stroke-width="0.4"/>
<circle cx="64.90" cy="556.00" r="1.78" fill="#C80A2C" stroke="#fff" stroke-opacity="0.3" stroke-width="0.4"/>
<circle cx="154.60" cy="462.10" r="1.78" fill="#C80A2C" stroke="#fff" stroke-opacity="0.3" stroke-width="0.4"/>
<circle cx="151.80" cy="474.30" r="1.78" fill="#C80A2C" stroke="#fff" stroke-opacity="0.3" stroke-width="0.4"/>
<circle cx="150.60" cy="492.00" r="1.78" fill="#C80A2C" stroke="#fff" stroke-opacity="0.3" stroke-width="0.4"/>
<circle cx="153.10" cy="493.70" r="1.78" fill="#C80A2C" stroke="#fff" stroke-opacity="0.3" stroke-width="0.4"/>
<circle cx="149.20" cy="504.20" r="1.78" fill="#C80A2C" stroke="#fff" stroke-opacity="0.3" stroke-width="0.4"/>
<circle cx="150.60" cy="506.70" r="1.78" fill="#C80A2C" stroke="#fff" stroke-opacity="0.3" stroke-width="0.4"/>
<circle cx="150.20" cy="506.50" r="1.78" fill="#C80A2C" stroke="#fff" stroke-opacity="0.3" stroke-width="0.4"/>
<circle cx="149.20" cy="512.00" r="1.78" fill="#C80A2C" stroke="#fff" stroke-opacity="0.3" stroke-width="0.4"/>
<circle cx="151.50" cy="522.70" r="1.78" fill="#C80A2C" stroke="#fff" stroke-opacity="0.3" stroke-width="0.4"/>
<circle cx="154.00" cy="522.50" r="1.78" fill="#C80A2C" stroke="#fff" stroke-opacity="0.3" stroke-width="0.4"/>
<circle cx="153.50" cy="528.50" r="1.78" fill="#C80A2C" stroke="#fff" stroke-opacity="0.3" stroke-width="0.4"/>
<circle cx="148.20" cy="530.50" r="1.78" fill="#C80A2C" stroke="#fff" stroke-opacity="0.3" stroke-width="0.4"/>
<circle cx="151.30" cy="532.00" r="1.78" fill="#C80A2C" stroke="#fff" stroke-opacity="0.3" stroke-width="0.4"/>
<circle cx="148.60" cy="535.70" r="1.78" fill="#C80A2C" stroke="#fff" stroke-opacity="0.3" stroke-width="0.4"/>
<circle cx="153.00" cy="538.10" r="1.78" fill="#C80A2C" stroke="#fff" stroke-opacity="0.3" stroke-width="0.4"/>
<circle cx="152.50" cy="544.60" r="1.78" fill="#C80A2C" stroke="#fff" stroke-opacity="0.3" stroke-width="0.4"/>
<circle cx="154.50" cy="546.40" r="1.78" fill="#C80A2C" stroke="#fff" stroke-opacity="0.3" stroke-width="0.4"/>
<circle cx="149.90" cy="548.70" r="1.78" fill="#C80A2C" stroke="#fff" stroke-opacity="0.3" stroke-width="0.4"/>
<circle cx="148.40" cy="549.40" r="1.78" fill="#C80A2C" stroke="#fff" stroke-opacity="0.3" stroke-width="0.4"/>
<circle cx="154.00" cy="552.10" r="1.78" fill="#C80A2C" stroke="#fff" stroke-opacity="0.3" stroke-width="0.4"/>
<circle cx="152.70" cy="555.10" r="1.78" fill="#C80A2C" stroke="#fff" stroke-opacity="0.3" stroke-width="0.4"/>
<circle cx="154.50" cy="556.40" r="1.78" fill="#C80A2C" stroke="#fff" stroke-opacity="0.3" stroke-width="0.4"/>
<circle cx="154.30" cy="558.50" r="1.78" fill="#C80A2C" stroke="#fff" stroke-opacity="0.3" stroke-width="0.4"/>
<circle cx="148.40" cy="559.50" r="1.78" fill="#C80A2C" stroke="#fff" stroke-opacity="0.3" stroke-width="0.4"/>
<circle cx="149.90" cy="559.70" r="1.78" fill="#C80A2C" stroke="#fff" stroke-opacity="0.3" stroke-width="0.4"/>
<circle cx="51.00" cy="257.30" r="1.78" fill="#C80A2C" stroke="#fff" stroke-opacity="0.3" stroke-width="0.4"/>
<circle cx="51.00" cy="268.40" r="1.78" fill="#C80A2C" stroke="#fff" stroke-opacity="0.3" stroke-width="0.4"/>
<circle cx="50.90" cy="325.50" r="1.78" fill="#C80A2C" stroke="#fff" stroke-opacity="0.3" stroke-width="0.4"/>
<circle cx="59.40" cy="338.00" r="1.78" fill="#C80A2C" stroke="#fff" stroke-opacity="0.3" stroke-width="0.4"/>
<circle cx="115.80" cy="330.20" r="1.78" fill="#C80A2C" stroke="#fff" stroke-opacity="0.3" stroke-width="0.4"/>
<circle cx="115.80" cy="333.80" r="1.78" fill="#C80A2C" stroke="#fff" stroke-opacity="0.3" stroke-width="0.4"/>
<circle cx="115.80" cy="335.90" r="1.78" fill="#C80A2C" stroke="#fff" stroke-opacity="0.3" stroke-width="0.4"/>
<circle cx="140.90" cy="285.60" r="1.78" fill="#C80A2C" stroke="#fff" stroke-opacity="0.3" stroke-width="0.4"/>
<circle cx="140.90" cy="291.70" r="1.78" fill="#C80A2C" stroke="#fff" stroke-opacity="0.3" stroke-width="0.4"/>
<circle cx="49.70" cy="343.20" r="1.78" fill="#C80A2C" stroke="#fff" stroke-opacity="0.3" stroke-width="0.4"/>
<circle cx="51.80" cy="343.20" r="1.78" fill="#C80A2C" stroke="#fff" stroke-opacity="0.3" stroke-width="0.4"/>
<circle cx="56.60" cy="343.20" r="1.78" fill="#C80A2C" stroke="#fff" stroke-opacity="0.3" stroke-width="0.4"/>
<circle cx="58.70" cy="343.20" r="1.78" fill="#C80A2C" stroke="#fff" stroke-opacity="0.3" stroke-width="0.4"/>
<circle cx="63.00" cy="343.20" r="1.78" fill="#C80A2C" stroke="#fff" stroke-opacity="0.3" stroke-width="0.4"/>
<circle cx="64.50" cy="343.20" r="1.78" fill="#C80A2C" stroke="#fff" stroke-opacity="0.3" stroke-width="0.4"/>
<circle cx="74.60" cy="343.20" r="1.78" fill="#C80A2C" stroke="#fff" stroke-opacity="0.3" stroke-width="0.4"/>
<circle cx="150.70" cy="343.20" r="1.78" fill="#C80A2C" stroke="#fff" stroke-opacity="0.3" stroke-width="0.4"/>
<circle cx="232.80" cy="260.00" r="1.78" fill="#C80A2C" stroke="#fff" stroke-opacity="0.3" stroke-width="0.4"/>
<circle cx="232.80" cy="288.40" r="1.78" fill="#C80A2C" stroke="#fff" stroke-opacity="0.3" stroke-width="0.4"/>
<circle cx="240.90" cy="295.20" r="1.78" fill="#C80A2C" stroke="#fff" stroke-opacity="0.3" stroke-width="0.4"/>
<circle cx="232.80" cy="314.20" r="1.78" fill="#C80A2C" stroke="#fff" stroke-opacity="0.3" stroke-width="0.4"/>
<circle cx="320.50" cy="263.00" r="1.78" fill="#C80A2C" stroke="#fff" stroke-opacity="0.3" stroke-width="0.4"/>
<circle cx="320.50" cy="283.70" r="1.78" fill="#C80A2C" stroke="#fff" stroke-opacity="0.3" stroke-width="0.4"/>
<circle cx="296.30" cy="325.30" r="1.78" fill="#C80A2C" stroke="#fff" stroke-opacity="0.3" stroke-width="0.4"/>
<circle cx="296.30" cy="330.40" r="1.78" fill="#C80A2C" stroke="#fff" stroke-opacity="0.3" stroke-width="0.4"/>
<circle cx="330.00" cy="341.10" r="1.78" fill="#C80A2C" stroke="#fff" stroke-opacity="0.3" stroke-width="0.4"/>
<circle cx="232.00" cy="331.40" r="1.78" fill="#C80A2C" stroke="#fff" stroke-opacity="0.3" stroke-width="0.4"/>
<circle cx="232.00" cy="333.50" r="1.78" fill="#C80A2C" stroke="#fff" stroke-opacity="0.3" stroke-width="0.4"/>
<circle cx="232.00" cy="335.60" r="1.78" fill="#C80A2C" stroke="#fff" stroke-opacity="0.3" stroke-width="0.4"/>
<circle cx="232.00" cy="337.60" r="1.78" fill="#C80A2C" stroke="#fff" stroke-opacity="0.3" stroke-width="0.4"/>
<circle cx="232.00" cy="339.60" r="1.78" fill="#C80A2C" stroke="#fff" stroke-opacity="0.3" stroke-width="0.4"/>
<circle cx="232.00" cy="341.00" r="1.78" fill="#C80A2C" stroke="#fff" stroke-opacity="0.3" stroke-width="0.4"/>
<circle cx="234.50" cy="341.00" r="1.78" fill="#C80A2C" stroke="#fff" stroke-opacity="0.3" stroke-width="0.4"/>
<circle cx="237.00" cy="341.00" r="1.78" fill="#C80A2C" stroke="#fff" stroke-opacity="0.3" stroke-width="0.4"/>
<circle cx="239.50" cy="341.00" r="1.78" fill="#C80A2C" stroke="#fff" stroke-opacity="0.3" stroke-width="0.4"/>
<circle cx="242.00" cy="341.00" r="1.78" fill="#C80A2C" stroke="#fff" stroke-opacity="0.3" stroke-width="0.4"/>
<circle cx="244.50" cy="341.00" r="1.78" fill="#C80A2C" stroke="#fff" stroke-opacity="0.3" stroke-width="0.4"/>
<circle cx="245.50" cy="341.00" r="1.78" fill="#C80A2C" stroke="#fff" stroke-opacity="0.3" stroke-width="0.4"/>
<circle cx="255.80" cy="339.60" r="1.78" fill="#C80A2C" stroke="#fff" stroke-opacity="0.3" stroke-width="0.4"/>
<circle cx="255.80" cy="341.20" r="1.78" fill="#C80A2C" stroke="#fff" stroke-opacity="0.3" stroke-width="0.4"/>
<circle cx="412.70" cy="304.80" r="1.78" fill="#C80A2C" stroke="#fff" stroke-opacity="0.3" stroke-width="0.4"/>
<circle cx="412.70" cy="309.30" r="1.78" fill="#C80A2C" stroke="#fff" stroke-opacity="0.3" stroke-width="0.4"/>
<circle cx="412.70" cy="311.00" r="1.78" fill="#C80A2C" stroke="#fff" stroke-opacity="0.3" stroke-width="0.4"/>
<circle cx="420.70" cy="299.70" r="1.78" fill="#C80A2C" stroke="#fff" stroke-opacity="0.3" stroke-width="0.4"/>
<circle cx="420.70" cy="312.00" r="1.78" fill="#C80A2C" stroke="#fff" stroke-opacity="0.3" stroke-width="0.4"/>
<circle cx="412.00" cy="325.00" r="1.78" fill="#C80A2C" stroke="#fff" stroke-opacity="0.3" stroke-width="0.4"/>
<circle cx="411.00" cy="330.40" r="1.78" fill="#C80A2C" stroke="#fff" stroke-opacity="0.3" stroke-width="0.4"/>
<circle cx="412.70" cy="333.40" r="1.78" fill="#C80A2C" stroke="#fff" stroke-opacity="0.3" stroke-width="0.4"/>
<circle cx="412.70" cy="338.60" r="1.78" fill="#C80A2C" stroke="#fff" stroke-opacity="0.3" stroke-width="0.4"/>
<circle cx="498.30" cy="274.60" r="1.78" fill="#C80A2C" stroke="#fff" stroke-opacity="0.3" stroke-width="0.4"/>
<circle cx="498.30" cy="292.90" r="1.78" fill="#C80A2C" stroke="#fff" stroke-opacity="0.3" stroke-width="0.4"/>
<circle cx="498.30" cy="315.20" r="1.78" fill="#C80A2C" stroke="#fff" stroke-opacity="0.3" stroke-width="0.4"/>
<circle cx="498.30" cy="318.00" r="1.78" fill="#C80A2C" stroke="#fff" stroke-opacity="0.3" stroke-width="0.4"/>
<circle cx="474.50" cy="340.80" r="1.78" fill="#C80A2C" stroke="#fff" stroke-opacity="0.3" stroke-width="0.4"/>
<circle cx="474.50" cy="342.00" r="1.78" fill="#C80A2C" stroke="#fff" stroke-opacity="0.3" stroke-width="0.4"/>
<circle cx="507.50" cy="343.70" r="1.78" fill="#C80A2C" stroke="#fff" stroke-opacity="0.3" stroke-width="0.4"/>
<circle cx="435.20" cy="341.00" r="1.78" fill="#C80A2C" stroke="#fff" stroke-opacity="0.3" stroke-width="0.4"/>
<circle cx="435.20" cy="343.70" r="1.78" fill="#C80A2C" stroke="#fff" stroke-opacity="0.3" stroke-width="0.4"/>
<circle cx="411.50" cy="344.20" r="1.78" fill="#C80A2C" stroke="#fff" stroke-opacity="0.3" stroke-width="0.4"/>
<circle cx="413.50" cy="344.20" r="1.78" fill="#C80A2C" stroke="#fff" stroke-opacity="0.3" stroke-width="0.4"/>
<circle cx="416.00" cy="344.20" r="1.78" fill="#C80A2C" stroke="#fff" stroke-opacity="0.3" stroke-width="0.4"/>
<circle cx="418.00" cy="344.20" r="1.78" fill="#C80A2C" stroke="#fff" stroke-opacity="0.3" stroke-width="0.4"/>
<circle cx="420.50" cy="344.20" r="1.78" fill="#C80A2C" stroke="#fff" stroke-opacity="0.3" stroke-width="0.4"/>
<circle cx="422.00" cy="342.50" r="1.78" fill="#C80A2C" stroke="#fff" stroke-opacity="0.3" stroke-width="0.4"/>
<circle cx="424.00" cy="344.20" r="1.78" fill="#C80A2C" stroke="#fff" stroke-opacity="0.3" stroke-width="0.4"/>
<circle cx="427.00" cy="344.20" r="1.78" fill="#C80A2C" stroke="#fff" stroke-opacity="0.3" stroke-width="0.4"/>
<circle cx="231.80" cy="474.60" r="1.78" fill="#C80A2C" stroke="#fff" stroke-opacity="0.3" stroke-width="0.4"/>
<circle cx="231.80" cy="477.20" r="1.78" fill="#C80A2C" stroke="#fff" stroke-opacity="0.3" stroke-width="0.4"/>
<circle cx="235.40" cy="484.20" r="1.78" fill="#C80A2C" stroke="#fff" stroke-opacity="0.3" stroke-width="0.4"/>
<circle cx="231.80" cy="488.80" r="1.78" fill="#C80A2C" stroke="#fff" stroke-opacity="0.3" stroke-width="0.4"/>
<circle cx="235.30" cy="520.80" r="1.78" fill="#C80A2C" stroke="#fff" stroke-opacity="0.3" stroke-width="0.4"/>
<circle cx="308.90" cy="517.70" r="1.78" fill="#C80A2C" stroke="#fff" stroke-opacity="0.3" stroke-width="0.4"/>
<circle cx="279.50" cy="526.30" r="1.78" fill="#C80A2C" stroke="#fff" stroke-opacity="0.3" stroke-width="0.4"/>
<circle cx="232.00" cy="526.30" r="1.78" fill="#C80A2C" stroke="#fff" stroke-opacity="0.3" stroke-width="0.4"/>
<circle cx="232.00" cy="528.50" r="1.78" fill="#C80A2C" stroke="#fff" stroke-opacity="0.3" stroke-width="0.4"/>
<circle cx="232.00" cy="530.60" r="1.78" fill="#C80A2C" stroke="#fff" stroke-opacity="0.3" stroke-width="0.4"/>
<circle cx="233.60" cy="526.30" r="1.78" fill="#C80A2C" stroke="#fff" stroke-opacity="0.3" stroke-width="0.4"/>
<circle cx="233.60" cy="528.50" r="1.78" fill="#C80A2C" stroke="#fff" stroke-opacity="0.3" stroke-width="0.4"/>
<circle cx="233.60" cy="530.60" r="1.78" fill="#C80A2C" stroke="#fff" stroke-opacity="0.3" stroke-width="0.4"/>
<circle cx="234.70" cy="529.20" r="1.78" fill="#C80A2C" stroke="#fff" stroke-opacity="0.3" stroke-width="0.4"/>
<circle cx="411.80" cy="467.30" r="1.78" fill="#C80A2C" stroke="#fff" stroke-opacity="0.3" stroke-width="0.4"/>
<circle cx="440.30" cy="477.30" r="1.78" fill="#C80A2C" stroke="#fff" stroke-opacity="0.3" stroke-width="0.4"/>
<circle cx="411.80" cy="495.30" r="1.78" fill="#C80A2C" stroke="#fff" stroke-opacity="0.3" stroke-width="0.4"/>
<circle cx="414.90" cy="499.60" r="1.78" fill="#C80A2C" stroke="#fff" stroke-opacity="0.3" stroke-width="0.4"/>
<circle cx="411.80" cy="505.00" r="1.78" fill="#C80A2C" stroke="#fff" stroke-opacity="0.3" stroke-width="0.4"/>
<circle cx="411.80" cy="507.30" r="1.78" fill="#C80A2C" stroke="#fff" stroke-opacity="0.3" stroke-width="0.4"/>
<circle cx="414.20" cy="517.10" r="1.78" fill="#C80A2C" stroke="#fff" stroke-opacity="0.3" stroke-width="0.4"/>
<circle cx="412.80" cy="519.20" r="1.78" fill="#C80A2C" stroke="#fff" stroke-opacity="0.3" stroke-width="0.4"/>
<circle cx="414.40" cy="521.50" r="1.78" fill="#C80A2C" stroke="#fff" stroke-opacity="0.3" stroke-width="0.4"/>
<circle cx="412.10" cy="523.70" r="1.78" fill="#C80A2C" stroke="#fff" stroke-opacity="0.3" stroke-width="0.4"/>
<circle cx="414.60" cy="527.70" r="1.78" fill="#C80A2C" stroke="#fff" stroke-opacity="0.3" stroke-width="0.4"/>
<circle cx="413.50" cy="533.40" r="1.78" fill="#C80A2C" stroke="#fff" stroke-opacity="0.3" stroke-width="0.4"/>
<circle cx="492.30" cy="493.20" r="1.78" fill="#C80A2C" stroke="#fff" stroke-opacity="0.3" stroke-width="0.4"/>
<circle cx="461.80" cy="529.20" r="1.78" fill="#C80A2C" stroke="#fff" stroke-opacity="0.3" stroke-width="0.4"/>
<circle cx="443.10" cy="535.30" r="1.78" fill="#C80A2C" stroke="#fff" stroke-opacity="0.3" stroke-width="0.4"/>
<circle cx="421.20" cy="546.60" r="1.78" fill="#C80A2C" stroke="#fff" stroke-opacity="0.3" stroke-width="0.4"/>
<circle cx="428.40" cy="546.60" r="1.78" fill="#C80A2C" stroke="#fff" stroke-opacity="0.3" stroke-width="0.4"/>
<circle cx="413.20" cy="536.60" r="1.78" fill="#C80A2C" stroke="#fff" stroke-opacity="0.3" stroke-width="0.4"/>
<circle cx="412.30" cy="539.00" r="1.78" fill="#C80A2C" stroke="#fff" stroke-opacity="0.3" stroke-width="0.4"/>
<circle cx="415.60" cy="539.30" r="1.78" fill="#C80A2C" stroke="#fff" stroke-opacity="0.3" stroke-width="0.4"/>
<circle cx="412.20" cy="541.60" r="1.78" fill="#C80A2C" stroke="#fff" stroke-opacity="0.3" stroke-width="0.4"/>
<circle cx="414.40" cy="541.80" r="1.78" fill="#C80A2C" stroke="#fff" stroke-opacity="0.3" stroke-width="0.4"/>
<circle cx="412.20" cy="544.20" r="1.78" fill="#C80A2C" stroke="#fff" stroke-opacity="0.3" stroke-width="0.4"/>
<circle cx="414.60" cy="544.20" r="1.78" fill="#C80A2C" stroke="#fff" stroke-opacity="0.3" stroke-width="0.4"/>
<circle cx="412.30" cy="546.40" r="1.78" fill="#C80A2C" stroke="#fff" stroke-opacity="0.3" stroke-width="0.4"/>
<circle cx="414.90" cy="546.40" r="1.78" fill="#C80A2C" stroke="#fff" stroke-opacity="0.3" stroke-width="0.4"/>
</svg></div></body></html>
